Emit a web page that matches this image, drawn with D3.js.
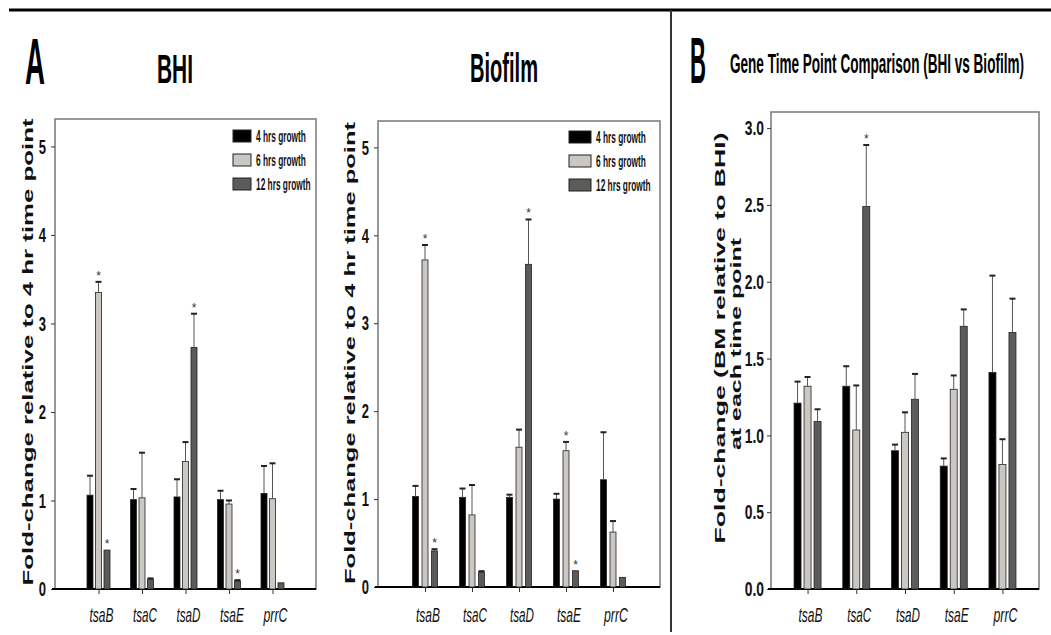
<!DOCTYPE html>
<meta charset="utf-8">
<style>
body { margin:0; background:#fff; }
svg { display:block; font-family:"Liberation Sans", Arial, sans-serif; }
</style>
<body>
<script src="https://d3js.org/d3.v7.min.js"></script>
<script>
// genes and time points
var genes = ["tsaB", "tsaC", "tsaD", "tsaE", "prrC"];
var series = ["4 hrs growth", "6 hrs growth", "12 hrs growth"];
var fills = ["#000000", "#cbc7c3", "#5b5b59"];

// panel A, BHI (fold-change relative to 4 hr)
var bhi4 = [1.06, 1.01, 1.04, 1.01, 1.08];
var bhi4Sd = [0.22, 0.12, 0.20, 0.10, 0.31];
var bhi6 = [3.35, 1.03, 1.44, 0.96, 1.02];
var bhi6Sd = [0.12, 0.51, 0.22, 0.04, 0.40];
var bhi12 = [0.44, 0.11, 2.73, 0.09, 0.07];
var bhi12Sd = [0, 0.01, 0.38, 0.01, 0];
var bhiStars = [["6 hrs growth", "tsaB"], ["12 hrs growth", "tsaB"], ["12 hrs growth", "tsaD"], ["12 hrs growth", "tsaE"]];

// panel A, Biofilm
var bio4 = [1.03, 1.02, 1.02, 1.00, 1.22];
var bio4Sd = [0.12, 0.10, 0.03, 0.06, 0.54];
var bio6 = [3.72, 0.82, 1.59, 1.55, 0.625];
var bio6Sd = [0.17, 0.34, 0.20, 0.10, 0.125];
var bio12 = [0.41, 0.17, 3.67, 0.185, 0.11];
var bio12Sd = [0.02, 0.01, 0.51, 0, 0];
var bioStars = [["6 hrs growth", "tsaB"], ["12 hrs growth", "tsaB"], ["12 hrs growth", "tsaD"], ["6 hrs growth", "tsaE"], ["12 hrs growth", "tsaE"]];

// panel B, BM relative to BHI
var cmp4 = [1.21, 1.32, 0.90, 0.80, 1.41];
var cmp4Sd = [0.14, 0.13, 0.04, 0.05, 0.63];
var cmp6 = [1.32, 1.035, 1.02, 1.30, 0.81];
var cmp6Sd = [0.06, 0.29, 0.13, 0.09, 0.165];
var cmp12 = [1.09, 2.49, 1.235, 1.71, 1.67];
var cmp12Sd = [0.08, 0.40, 0.165, 0.11, 0.22];
var cmpStars = [["12 hrs growth", "tsaC"]];

var ticksA = [0, 1, 2, 3, 4, 5];
var ticksB = [0, 0.5, 1.0, 1.5, 2.0, 2.5, 3.0];

var svg = d3.select("body").append("svg")
    .attr("width", 1051)
    .attr("height", 635);

// squash text horizontally like the original figure
function squeeze(sel, k) {
  sel.each(function() {
    var w = this.getComputedTextLength();
    d3.select(this).attr("textLength", w * k).attr("lengthAdjust", "spacingAndGlyphs");
  });
}

function label(txt, x, y, size, weight, len) {
  return svg.append("text")
      .attr("x", x).attr("y", y)
      .attr("font-size", size)
      .attr("font-weight", weight)
      .attr("textLength", len)
      .attr("lengthAdjust", "spacingAndGlyphs")
      .text(txt);
}

function vlabel(txt, x, y, len) {
  svg.append("text")
      .attr("transform", "translate(" + x + "," + y + ") rotate(-90)")
      .attr("text-anchor", "middle")
      .attr("font-size", 14)
      .attr("font-weight", "bold")
      .attr("fill", "#111")
      .attr("textLength", len)
      .attr("lengthAdjust", "spacingAndGlyphs")
      .text(txt);
}

function drawPanel(p) {
  var g = svg.append("g");
  var x = d3.scalePoint().domain(genes).range([p.left, p.right]).padding(p.pad);
  var pi = 1 - p.barW / p.step;
  var xs = d3.scaleBand().domain(series)
      .range([-1.5 * p.step, 1.5 * p.step])
      .paddingInner(pi).paddingOuter(pi / 2);
  var y = d3.scaleLinear().domain([0, p.ymax]).range([p.bottom, p.top]);

  // frame
  g.append("rect")
      .attr("x", p.left).attr("y", p.top)
      .attr("width", p.right - p.left).attr("height", p.bottom - p.top)
      .attr("fill", "none").attr("stroke", "#777").attr("stroke-width", 1.5);

  // y axis
  var ya = g.append("g")
      .attr("transform", "translate(" + p.left + ",0)")
      .call(d3.axisLeft(y).tickValues(p.ticks).tickFormat(p.fmt).tickSize(4).tickPadding(p.tickPad));
  ya.select(".domain").remove();
  ya.selectAll("line").attr("stroke", "#333");
  ya.selectAll("text")
      .attr("font-size", 21).attr("font-weight", "bold")
      .attr("font-family", "Liberation Sans, Arial, sans-serif")
      .attr("fill", "#111")
      .call(squeeze, p.squash);

  // x axis
  var xa = g.append("g")
      .attr("transform", "translate(0," + p.bottom + ")")
      .call(d3.axisBottom(x).tickSize(5).tickFormat(""));
  xa.select(".domain")
      .attr("d", "M" + (p.left - 3) + ",0H" + p.right)
      .attr("stroke", "#000").attr("stroke-width", 2);
  xa.selectAll("line").attr("stroke", "#333");

  g.selectAll(".gene")
    .data(genes)
    .join("text")
      .attr("class", "gene")
      .attr("x", function(d) { return x(d) + 3; })
      .attr("y", 622)
      .attr("text-anchor", "middle")
      .attr("font-size", 21)
      .attr("font-style", "italic")
      .attr("fill", "#111")
      .attr("textLength", 24)
      .attr("lengthAdjust", "spacingAndGlyphs")
      .text(function(d) { return d; });

  // bars
  series.forEach(function(s, i) {
    var rows = genes.map(function(gn, j) {
      return {gene: gn, v: p.means[i][j], sd: p.sds[i][j]};
    });
    var sg = g.append("g");
    sg.selectAll("rect")
      .data(rows)
      .join("rect")
        .attr("x", function(d) { return x(d.gene) + xs(s); })
        .attr("y", function(d) { return y(d.v); })
        .attr("width", xs.bandwidth())
        .attr("height", function(d) { return y(0) - y(d.v); })
        .attr("fill", fills[i])
        .attr("stroke", "#222")
        .attr("stroke-width", 0.8);
    var eb = rows.filter(function(d) { return d.sd > 0; });
    sg.selectAll("line.err")
      .data(eb)
      .join("line")
        .attr("class", "err")
        .attr("x1", function(d) { return x(d.gene) + xs(s) + xs.bandwidth() / 2; })
        .attr("x2", function(d) { return x(d.gene) + xs(s) + xs.bandwidth() / 2; })
        .attr("y1", function(d) { return y(d.v); })
        .attr("y2", function(d) { return y(d.v + d.sd); })
        .attr("stroke", "#555").attr("stroke-width", 1);
    sg.selectAll("line.cap")
      .data(eb)
      .join("line")
        .attr("class", "cap")
        .attr("x1", function(d) { return x(d.gene) + xs(s) + xs.bandwidth() / 2 - 3; })
        .attr("x2", function(d) { return x(d.gene) + xs(s) + xs.bandwidth() / 2 + 3; })
        .attr("y1", function(d) { return y(d.v + d.sd); })
        .attr("y2", function(d) { return y(d.v + d.sd); })
        .attr("stroke", "#222").attr("stroke-width", 2);
  });

  // significance marks
  g.selectAll(".star")
    .data(p.stars)
    .join("text")
      .attr("class", "star")
      .attr("x", function(d) { return x(d[1]) + xs(d[0]) + xs.bandwidth() / 2; })
      .attr("y", function(d) {
        var i = series.indexOf(d[0]), j = genes.indexOf(d[1]);
        return y(p.means[i][j] + p.sds[i][j]) - 2;
      })
      .attr("text-anchor", "middle")
      .attr("font-size", 12)
      .attr("fill", "#333")
      .text("*");

  // legend
  if (p.legend) {
    var lg = g.append("g");
    series.forEach(function(s, i) {
      lg.append("rect")
          .attr("x", p.legend.x).attr("y", p.legend.y + i * 24)
          .attr("width", p.legend.w).attr("height", 12)
          .attr("fill", fills[i]).attr("stroke", "#222").attr("stroke-width", 1);
      lg.append("text")
          .attr("x", p.legend.x + p.legend.w + 5)
          .attr("y", p.legend.y + i * 24 + 12)
          .attr("font-size", 16)
          .attr("font-weight", "bold")
          .attr("fill", "#111")
          .text(s)
          .call(squeeze, 0.52);
    });
  }
}

// frame lines
svg.append("line").attr("x1", 9).attr("x2", 1051).attr("y1", 10).attr("y2", 10)
    .attr("stroke", "#000").attr("stroke-width", 3);
svg.append("line").attr("x1", 671).attr("x2", 671).attr("y1", 10).attr("y2", 632)
    .attr("stroke", "#333").attr("stroke-width", 2);

// titles
label("A", 25, 84, 64, "bold", 20);
label("BHI", 157, 83, 40, "bold", 36);
label("Biofilm", 470, 82, 40, "bold", 68);
label("B", 690, 83, 64, "bold", 16);
label("Gene Time Point Comparison (BHI vs Biofilm)", 730, 73, 27, "bold", 294);

vlabel("Fold-change relative to 4 hr time point", 33, 352, 467);
vlabel("Fold-change relative to 4 hr time point", 355, 353, 462);
vlabel("Fold-change (BM relative to BHI)", 725, 338, 411);
vlabel("at each time point", 741, 344, 212);

drawPanel({
  left: 55, right: 316, top: 119, bottom: 589, ymax: 5.31, pad: 1,
  step: 8.5, barW: 6, ticks: ticksA, fmt: d3.format("d"), tickPad: 5, squash: 0.62,
  means: [bhi4, bhi6, bhi12], sds: [bhi4Sd, bhi6Sd, bhi12Sd], stars: bhiStars,
  legend: {x: 233, y: 130, w: 18}
});

drawPanel({
  left: 378, right: 660, top: 121, bottom: 587, ymax: 5.3, pad: 1,
  step: 9.5, barW: 6, ticks: ticksA, fmt: d3.format("d"), tickPad: 5, squash: 0.62,
  means: [bio4, bio6, bio12], sds: [bio4Sd, bio6Sd, bio12Sd], stars: bioStars,
  legend: {x: 569, y: 131, w: 22}
});

drawPanel({
  left: 771, right: 1039, top: 112, bottom: 589, ymax: 3.105, pad: 0.75,
  step: 10, barW: 7, ticks: ticksB, fmt: d3.format(".1f"), tickPad: 3, squash: 0.66,
  means: [cmp4, cmp6, cmp12], sds: [cmp4Sd, cmp6Sd, cmp12Sd], stars: cmpStars,
  legend: null
});
</script>
</body>
